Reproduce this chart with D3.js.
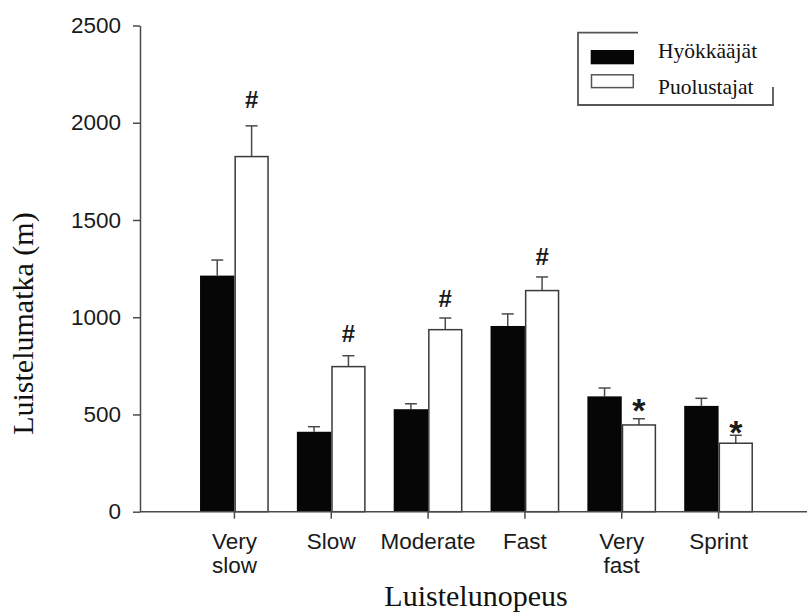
<!DOCTYPE html>
<html>
<head>
<meta charset="utf-8">
<script src="https://cdn.jsdelivr.net/npm/d3@7"></script>
<style>
body { margin: 0; background: #fff; }
svg { display: block; }
</style>
</head>
<body>
<svg id="chart" width="807" height="612"></svg>
<script>
// values
var categories = ['Very slow', 'Slow', 'Moderate', 'Fast', 'Very fast', 'Sprint'];
var catLines = [['Very', 'slow'], ['Slow'], ['Moderate'], ['Fast'], ['Very', 'fast'], ['Sprint']];
var series = ['Hyökkääjät', 'Puolustajat'];
var forwards = [1214, 411, 527, 955, 593, 544];
var forwardsErr = [80, 26, 28, 62, 43, 39];
var defenders = [1826, 746, 936, 1137, 446, 352];
var defendersErr = [158, 56, 60, 70, 32, 41];
var marks = ['#', '#', '#', '#', '*', '*'];
var markLevel = [2078, 874, 1054, 1269, 540, 425];
var yTicks = [0, 500, 1000, 1500, 2000, 2500];

var svg = d3.select('#chart');
var axisColor = '#4a4a4a';
var sans = '"Liberation Sans", Arial, sans-serif';
var serif = '"Liberation Serif", "Times New Roman", serif';

var y = d3.scaleLinear().domain([0, 2500]).range([511.7, 25.5]);
var x = d3.scaleBand().domain(categories).range([186, 767])
	.paddingInner(0.29).paddingOuter(0.145);
var xs = d3.scaleBand().domain(series).range([0, x.bandwidth()]);

var rows = categories.map(function(c, i) {
	return {
		cat: c,
		vals: [
			{s: series[0], v: forwards[i], e: forwardsErr[i]},
			{s: series[1], v: defenders[i], e: defendersErr[i]}
		]
	};
});

var groups = svg.selectAll('g.grp')
	.data(rows)
	.enter()
	.append('g')
	.attr('class', 'grp')
	.attr('transform', function(d) { return 'translate(' + x(d.cat) + ',0)'; });

var items = groups.selectAll('g.item')
	.data(function(d) { return d.vals; })
	.enter()
	.append('g')
	.attr('class', 'item');

// error bars (upper only)
items.append('line')
	.attr('x1', function(d) { return xs(d.s) + xs.bandwidth() / 2; })
	.attr('x2', function(d) { return xs(d.s) + xs.bandwidth() / 2; })
	.attr('y1', function(d) { return y(d.v); })
	.attr('y2', function(d) { return y(d.v + d.e); })
	.attr('stroke', axisColor)
	.attr('stroke-width', 1.5);

items.append('line')
	.attr('x1', function(d) { return xs(d.s) + xs.bandwidth() / 2 - 6; })
	.attr('x2', function(d) { return xs(d.s) + xs.bandwidth() / 2 + 6; })
	.attr('y1', function(d) { return y(d.v + d.e); })
	.attr('y2', function(d) { return y(d.v + d.e); })
	.attr('stroke', axisColor)
	.attr('stroke-width', 1.5);

items.append('rect')
	.attr('x', function(d, i) { return xs(d.s) + (i ? 0.75 : 0); })
	.attr('y', function(d) { return y(d.v); })
	.attr('width', function(d, i) { return xs.bandwidth() - (i ? 1.5 : 0); })
	.attr('height', function(d) { return y(0) - y(d.v); })
	.attr('fill', function(d, i) { return i ? '#fff' : '#060606'; })
	.attr('stroke', function(d, i) { return i ? '#3a3a3a' : 'none'; })
	.attr('stroke-width', 1.5);

// significance marks above defenders' bars
groups.append('text')
	.attr('x', xs(series[1]) + xs.bandwidth() / 2)
	.attr('y', function(d, i) {
		return marks[i] == '*' ? y(markLevel[i]) + 15 : y(markLevel[i]);
	})
	.attr('text-anchor', 'middle')
	.style('font-family', sans)
	.style('font-weight', 'bold')
	.style('font-size', function(d, i) { return marks[i] == '*' ? '34px' : '24px'; })
	.attr('fill', '#1a1a1a')
	.text(function(d, i) { return marks[i]; });

// y axis
var yAxis = svg.append('g')
	.attr('transform', 'translate(140,0)')
	.call(d3.axisLeft(y).tickValues(yTicks).tickSize(7).tickSizeOuter(0)
		.tickPadding(12).tickFormat(d3.format('d')));
yAxis.selectAll('path, line').attr('stroke', axisColor).attr('stroke-width', 1.5);
yAxis.selectAll('text')
	.style('font-family', sans)
	.style('font-size', '22.5px')
	.attr('fill', '#1a1a1a');

// x axis
svg.append('line')
	.attr('x1', 140).attr('x2', 807)
	.attr('y1', y(0)).attr('y2', y(0))
	.attr('stroke', axisColor)
	.attr('stroke-width', 1.5);

var xt = svg.selectAll('g.xtick')
	.data(categories)
	.enter()
	.append('g')
	.attr('class', 'xtick')
	.attr('transform', function(d) { return 'translate(' + (x(d) + x.bandwidth() / 2) + ',' + y(0) + ')'; });

xt.append('line')
	.attr('y2', 7)
	.attr('stroke', axisColor)
	.attr('stroke-width', 1.5);

xt.append('text')
	.attr('text-anchor', 'middle')
	.style('font-family', sans)
	.style('font-size', '22.5px')
	.attr('fill', '#1a1a1a')
	.selectAll('tspan')
	.data(function(d, i) { return catLines[i]; })
	.enter()
	.append('tspan')
	.attr('x', 0)
	.attr('y', function(d, i) { return 37 + i * 24; })
	.text(function(d) { return d; });

// axis titles
svg.append('text')
	.attr('transform', 'translate(33,' + ((y(0) + y(2500)) / 2 + 55) + ') rotate(-90)')
	.attr('text-anchor', 'middle')
	.style('font-family', serif)
	.style('font-size', '30px')
	.attr('fill', '#111')
	.text('Luistelumatka (m)');

svg.append('text')
	.attr('x', 476)
	.attr('y', 606)
	.attr('text-anchor', 'middle')
	.style('font-family', serif)
	.style('font-size', '30px')
	.attr('fill', '#111')
	.text('Luistelunopeus');

// legend
var lg = svg.append('g');
lg.append('path')
	.attr('d', 'M638,32.7H578V105H773V87')
	.attr('fill', 'none')
	.attr('stroke', '#555')
	.attr('stroke-width', 1.8);

svg.append('clipPath').attr('id', 'lgclip')
	.append('rect').attr('x', 570).attr('y', 20).attr('width', 220).attr('height', 69);

var lgItems = lg.selectAll('g.lgitem')
	.data(series)
	.enter()
	.append('g')
	.attr('class', 'lgitem')
	.attr('transform', function(d, i) { return 'translate(0,' + i * 24 + ')'; });

lgItems.append('rect')
	.attr('x', function(d, i) { return i ? 591.5 : 590.7; })
	.attr('y', function(d, i) { return i ? 50.8 : 50; })
	.attr('width', function(d, i) { return i ? 41.8 : 43.3; })
	.attr('height', function(d, i) { return i ? 12.8 : 14.3; })
	.attr('fill', function(d, i) { return i ? '#fff' : '#060606'; })
	.attr('stroke', function(d, i) { return i ? '#555' : 'none'; })
	.attr('stroke-width', 1.5);

lgItems.append('text')
	.attr('x', 658)
	.attr('y', function(d, i) { return i ? 69.5 : 58; })
	.attr('clip-path', function(d, i) { return i ? 'url(#lgclip)' : null; })
	.style('font-family', serif)
	.style('font-size', '21.5px')
	.attr('fill', '#111')
	.text(function(d) { return d; });
</script>
</body>
</html>
